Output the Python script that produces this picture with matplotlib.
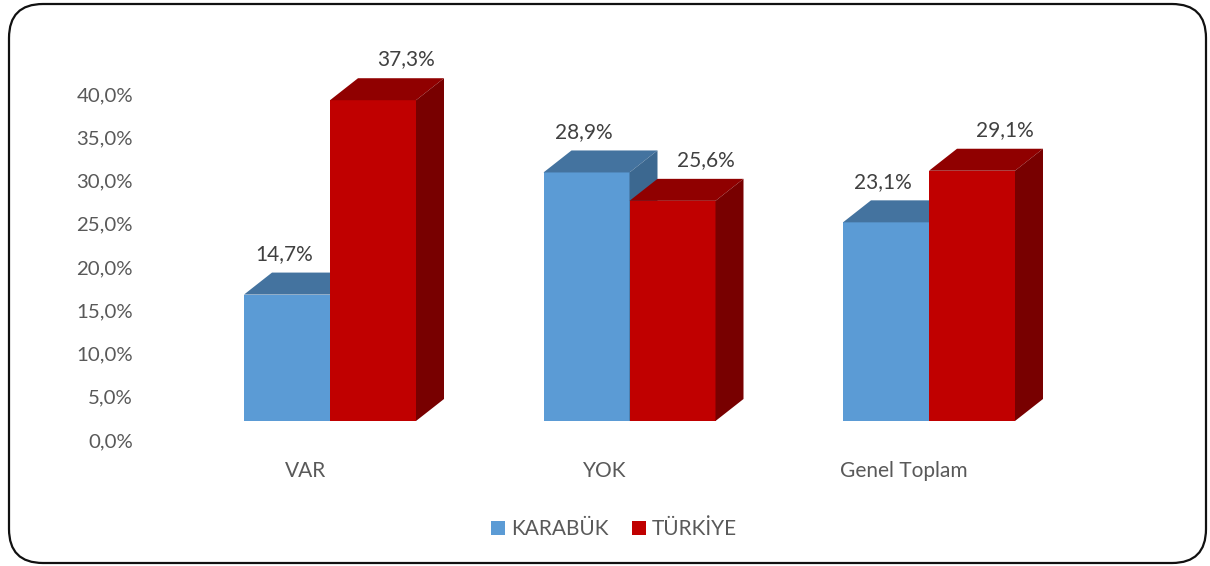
import matplotlib
matplotlib.use("Agg")
import matplotlib.pyplot as plt
from matplotlib.patches import Polygon, FancyBboxPatch, Patch
from matplotlib.transforms import IdentityTransform

categories = ["VAR", "YOK", "Genel Toplam"]
karabuk = [14.7, 28.9, 23.1]
turkiye = [37.3, 25.6, 29.1]
series_names = ["KARABÜK", "TÜRKİYE"]
yticks = [0, 5, 10, 15, 20, 25, 30, 35, 40]

FONT = "Lato"
TXT = "#595959"
LBL = "#404040"
FS = 15
colors = {
    "KARABÜK": ("#5B9BD5", "#44739F", "#3C6890"),
    "TÜRKİYE": ("#C00000", "#900000", "#780000"),
}

W, H = 1210, 566
fig = plt.figure(figsize=(W / 100, H / 100), dpi=100)
fig.patch.set_facecolor("white")

# pixel mapping helpers (for layout only)
spacing = 299.5
x0_px = 330
base_py = 421
ppu = 8.6  # pixels per percent

ax = fig.add_axes([0, 0, 1, 1])
ax.set_xlim((0 - x0_px) / spacing, (W - x0_px) / spacing)
ax.set_ylim((base_py - H) / ppu, base_py / ppu)
ax.axis("off")

bw = 86 / spacing
dx = 28 / spacing
dy = 22 / ppu

def draw_bar(x0, v, cols, z):
    front, top, side = cols
    ax.bar([x0], [v], width=bw, align="edge", color=front, zorder=z, linewidth=0)
    ax.add_patch(Polygon([(x0, v), (x0 + bw, v), (x0 + bw + dx, v + dy), (x0 + dx, v + dy)],
                         closed=True, facecolor=top, edgecolor="none", zorder=z))
    ax.add_patch(Polygon([(x0 + bw, 0), (x0 + bw + dx, dy), (x0 + bw + dx, v + dy), (x0 + bw, v)],
                         closed=True, facecolor=side, edgecolor="none", zorder=z))

z = 2
for i, cat in enumerate(categories):
    kv, tv = karabuk[i], turkiye[i]
    draw_bar(i - bw, kv, colors["KARABÜK"], z); z += 1
    draw_bar(i, tv, colors["TÜRKİYE"], z); z += 1
    ax.text(i - bw / 2 - 0.01, kv + dy + 2.1, f"{kv:.1f}%".replace(".", ","),
            ha="center", va="center", fontsize=FS, color=LBL, family=FONT, zorder=20)
    ax.text(i + bw / 2 + 0.11, tv + dy + 2.2, f"{tv:.1f}%".replace(".", ","),
            ha="center", va="center", fontsize=FS, color=LBL, family=FONT, zorder=20)
    ax.text(i - 0.083, (base_py - 471) / ppu, cat, ha="center", va="center",
            fontsize=FS, color=TXT, family=FONT)

# value axis (back wall)
axw = fig.add_axes([140 / W, (H - 440) / H, 960 / W, (440 - 94) / H])
axw.set_ylim(0, 40)
axw.set_facecolor("none")
for s in axw.spines.values():
    s.set_visible(False)
axw.set_xticks([])
axw.set_yticks(yticks)
axw.set_yticklabels([f"{t:.1f}%".replace(".", ",") for t in yticks], family=FONT,
                    fontsize=FS - 0.3, color=TXT)
axw.tick_params(axis="y", length=0, pad=5)
axw.set_zorder(-1)

handles = [Patch(facecolor=colors[n][0], edgecolor="none", label=n) for n in series_names]
fig.legend(handles=handles, loc="center", bbox_to_anchor=(614 / W, 1 - 529 / H), ncol=2,
           frameon=False, prop={"family": FONT, "size": FS}, labelcolor=TXT,
           handlelength=0.68, handleheight=0.68, handletextpad=0.3, columnspacing=1.1)

border = FancyBboxPatch((9, 3), 1197, 559, boxstyle="round,pad=0,rounding_size=34",
                        transform=IdentityTransform(), facecolor="none",
                        edgecolor="#111111", linewidth=1.6)
fig.patches.append(border)

fig.savefig("out.png", dpi=100)
